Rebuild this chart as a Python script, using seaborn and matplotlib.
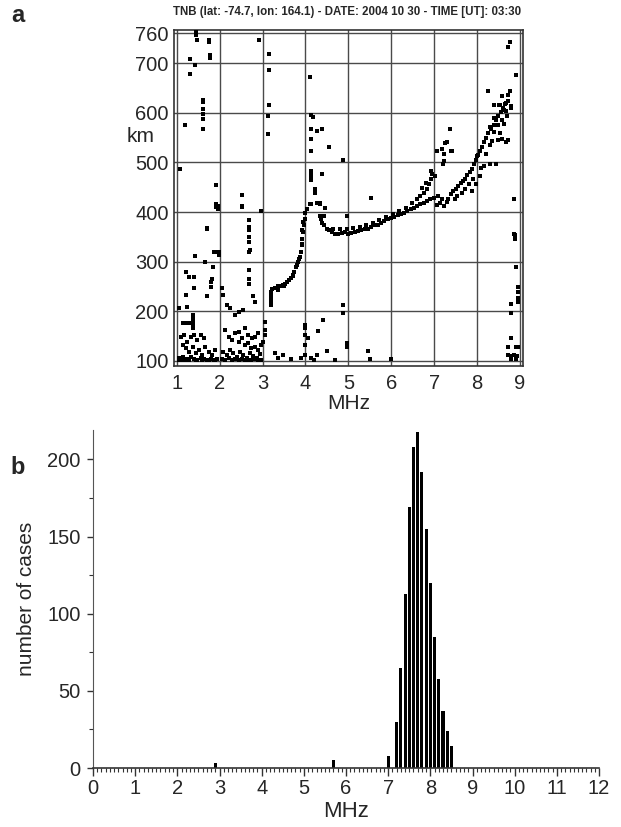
import numpy as np
import pandas as pd
import matplotlib
matplotlib.use('Agg')
import matplotlib.pyplot as plt
import seaborn as sns
from matplotlib.ticker import MultipleLocator

# ---- panel a: ionogram echoes (frequency MHz, virtual height km) ----
f1_trace = [(3.19, 213), (3.19, 219), (3.19, 226), (3.19, 233), (3.19, 239), (3.22, 245),
            (3.28, 247), (3.32, 246), (3.35, 243), (3.37, 251), (3.43, 251), (3.47, 254),
            (3.51, 251), (3.52, 256), (3.57, 259), (3.62, 263), (3.66, 267), (3.70, 271),
            (3.72, 274), (3.74, 279), (3.78, 289), (3.80, 294), (3.83, 299), (3.85, 305),
            (3.88, 309), (3.89, 319), (3.91, 333), (3.93, 346), (3.94, 359), (3.97, 373),
            (3.98, 386), (4.00, 398), (4.04, 406), (3.95, 379), (3.93, 363), (3.91, 336)]

f2_lower = [(4.27, 419), (4.33, 393), (4.36, 386), (4.39, 378), (4.44, 373), (4.50, 366),
            (4.56, 363), (4.62, 359), (4.69, 356), (4.77, 356), (4.85, 358), (4.92, 359),
            (5.00, 356), (5.07, 357), (5.15, 359), (5.23, 361), (5.30, 363), (5.38, 365),
            (5.46, 366), (5.53, 369), (5.61, 373), (5.69, 374), (5.76, 378), (5.84, 381),
            (5.92, 385), (5.99, 387), (6.07, 391), (6.15, 394), (6.22, 396), (6.30, 399),
            (6.37, 403), (6.45, 406), (6.53, 409), (6.60, 413), (6.68, 416), (6.76, 419),
            (6.83, 423), (6.91, 426), (6.99, 429), (7.06, 414), (7.14, 418), (7.22, 413),
            (7.29, 421), (7.18, 426), (7.10, 433)]

f2_upper = [(4.65, 366), (4.81, 365), (4.96, 366), (5.11, 367), (5.27, 369), (5.42, 374),
            (5.57, 378), (5.72, 383), (5.88, 389), (6.03, 396), (6.18, 403), (6.34, 409),
            (6.49, 418), (6.60, 426), (6.68, 433), (6.76, 439), (6.83, 446), (6.89, 456),
            (6.93, 466), (6.96, 476), (6.93, 483), (7.02, 473), (6.80, 459), (6.72, 449)]

x_trace = [(7.33, 426), (7.39, 436), (7.45, 443), (7.50, 447), (7.56, 453), (7.62, 458),
           (7.67, 463), (7.73, 467), (7.77, 474), (7.83, 481), (7.88, 487), (7.93, 496),
           (7.98, 505), (8.02, 514), (8.06, 523), (8.11, 531), (8.16, 541), (8.21, 549),
           (8.26, 559), (8.32, 567), (8.39, 576), (8.44, 585), (8.49, 593), (8.55, 601),
           (8.61, 609), (8.66, 618), (7.48, 426), (7.54, 433), (7.64, 439), (7.71, 447),
           (7.80, 456), (7.90, 466), (7.87, 443), (7.98, 456), (8.06, 473), (8.08, 489),
           (8.17, 493), (8.29, 496), (8.44, 496), (8.00, 513), (8.21, 516), (8.29, 536),
           (8.34, 543), (8.48, 546), (8.57, 547), (8.67, 541), (8.72, 546), (8.54, 559),
           (8.40, 561), (8.29, 571), (8.48, 576), (8.40, 589), (8.57, 585), (8.63, 578),
           (8.69, 594), (8.78, 609), (8.72, 623), (8.54, 616), (8.25, 644), (8.76, 644),
           (8.71, 636), (8.59, 633), (8.52, 616), (8.40, 616), (8.67, 619), (8.78, 613),
           (8.63, 606), (8.67, 603)]

scatter_echoes = [
    # upper left
    (1.44, 764), (1.46, 756), (1.47, 746), (1.31, 709), (1.31, 679), (1.43, 696),
    (1.76, 742), (1.76, 746), (1.77, 710), (1.77, 716), (1.20, 576), (1.62, 626),
    (1.62, 621), (1.62, 607), (1.62, 597), (1.62, 587), (1.62, 568), (1.08, 486),
    (1.92, 455), (1.92, 417), (1.92, 411), (2.51, 434), (2.51, 411), (2.92, 746),
    (3.16, 719), (3.16, 687), (3.16, 616), (3.12, 593), (3.12, 557),
    # around 4-5 MHz
    (4.10, 671), (4.12, 596), (4.17, 591), (4.13, 568), (4.27, 563), (4.39, 567),
    (4.13, 548), (4.13, 522), (4.54, 531), (4.88, 505), (4.13, 483), (4.13, 477),
    (4.13, 473), (4.13, 464), (4.39, 476), (4.23, 447), (4.23, 442), (4.23, 438),
    (4.10, 416), (4.35, 419), (4.35, 416), (4.45, 409), (5.53, 429),
    (4.12, 416), (4.43, 393), (4.96, 393),
    # around 7 MHz, above the trace
    (7.37, 567), (7.25, 539), (7.29, 541), (7.06, 523), (7.19, 526), (7.39, 523),
    (7.22, 516), (7.24, 503), (7.41, 523), (7.20, 496),
    # right edge
    (8.76, 743), (8.71, 733), (8.90, 675), (8.86, 426), (8.86, 356), (8.89, 353),
    (8.88, 345), (8.91, 289), (8.95, 249), (8.95, 239), (8.95, 227), (8.95, 219),
    (8.80, 214), (8.78, 196), (8.80, 146), (8.71, 129), (8.90, 129), (8.95, 129),
    (8.71, 113), (8.78, 110), (8.86, 113), (8.94, 110), (8.78, 103), (8.90, 103),
    # low heights 4-6 MHz
    (4.88, 213), (4.88, 196), (4.42, 183), (4.29, 161), (4.00, 173), (4.00, 166),
    (4.00, 153), (4.00, 133), (4.00, 113), (4.27, 113), (4.50, 121), (4.12, 106),
    (4.20, 101), (4.69, 101), (4.98, 136), (4.98, 129), (5.46, 121), (5.50, 103),
    (5.99, 103), (4.06, 146), (4.68, 101),
    # 1-2 MHz
    (1.06, 206), (1.21, 279), (1.29, 269), (1.21, 233), (1.25, 209), (1.41, 269),
    (1.41, 246), (1.43, 311), (1.71, 367), (1.67, 299), (1.71, 231), (1.79, 259),
    (1.79, 249), (1.83, 266), (1.84, 289), (1.86, 319), (1.92, 319), (1.98, 313),
    (1.98, 319), (1.14, 176), (1.23, 176), (1.29, 176), (1.37, 193), (1.38, 186),
    (1.38, 179), (1.38, 173), (1.39, 166), (1.10, 149), (1.18, 153), (1.25, 139),
    (1.33, 149), (1.41, 153), (1.48, 143), (1.56, 153), (1.63, 146), (1.14, 133),
    (1.21, 126), (1.29, 119), (1.37, 129), (1.44, 116), (1.52, 123), (1.60, 113),
    (1.67, 129), (1.75, 119), (1.83, 113), (1.90, 123), (1.06, 106), (1.10, 104),
    (1.14, 109), (1.18, 103), (1.25, 105), (1.33, 108), (1.41, 104), (1.48, 102),
    (1.56, 107), (1.63, 104), (1.71, 102), (1.79, 104), (1.86, 101), (1.94, 104),
    (1.06, 101), (1.12, 102), (1.19, 101), (1.29, 102), (1.44, 101), (1.60, 102),
    (1.75, 101), (1.90, 102), (1.96, 413), (1.96, 407), (1.71, 366),
    # 2-3 MHz
    (2.06, 246), (2.09, 233), (2.17, 213), (2.25, 206), (2.36, 193), (2.44, 199),
    (2.55, 203), (2.51, 413), (2.68, 383), (2.68, 369), (2.68, 363), (2.68, 349),
    (2.69, 339), (2.70, 323), (2.69, 319), (2.68, 283), (2.68, 266), (2.68, 256),
    (2.78, 231), (2.82, 219), (2.44, 159), (2.59, 166), (2.67, 153), (2.76, 146),
    (2.82, 149), (2.90, 156), (2.13, 163), (2.21, 149), (2.28, 143), (2.36, 156),
    (2.44, 139), (2.51, 146), (2.59, 133), (2.67, 136), (2.74, 126), (2.82, 129),
    (2.90, 123), (2.97, 133), (2.09, 119), (2.17, 113), (2.25, 123), (2.32, 116),
    (2.40, 109), (2.48, 119), (2.55, 113), (2.63, 107), (2.70, 116), (2.78, 111),
    (2.86, 106), (2.93, 114), (2.05, 103), (2.13, 101), (2.21, 106), (2.28, 101),
    (2.36, 103), (2.44, 101), (2.51, 105), (2.59, 101), (2.67, 102), (2.74, 101),
    (2.82, 103), (2.90, 101), (2.97, 102),
    # 3-4 MHz
    (3.01, 139), (3.05, 153), (3.06, 163), (3.06, 179), (2.97, 403), (3.28, 116),
    (3.35, 106), (3.47, 113), (3.66, 103), (3.89, 107),
]

# ---- panel b: distribution of critical frequency ----
hist_freq = [2.9, 5.7, 7.0, 7.2, 7.3, 7.4, 7.5, 7.6, 7.7, 7.8, 7.9, 8.0, 8.1, 8.2, 8.3, 8.4, 8.5]
hist_count = [3, 5, 8, 30, 65, 113, 169, 208, 218, 192, 155, 120, 85, 58, 37, 24, 14]

echoes = pd.DataFrame(f1_trace + f2_lower + f2_upper + x_trace + scatter_echoes,
                      columns=['freq', 'height'])
cases = pd.DataFrame({'freq': hist_freq, 'count': hist_count})

sns.set_style('white')
plt.rcParams['font.family'] = ['Liberation Sans', 'DejaVu Sans']

fig = plt.figure(figsize=(6.21, 8.27), dpi=100)
ax1 = fig.add_axes([0.2807, 0.5578, 0.561, 0.4059])
ax2 = fig.add_axes([0.1498, 0.0713, 0.8148, 0.4087])

# panel a
sns.scatterplot(data=echoes, x='freq', y='height', ax=ax1, color='black', marker='s',
                s=6, linewidth=0, zorder=3)
ax1.set_xlim(0.944, 9.063)
ax1.set_ylim(90.5, 766.6)
ax1.set_xticks(range(1, 10))
ax1.set_yticks([100, 200, 300, 400, 500, 600, 700, 760])
ax1.grid(True, color='#4a4a4a', linewidth=1.0)
ax1.tick_params(length=0, labelsize=14.5)
ax1.tick_params(axis='x', pad=6)
ax1.tick_params(axis='y', pad=4)
for s in ax1.spines.values():
    s.set_color('#333333')
    s.set_linewidth(1.2)
ax1.set_xlabel('MHz', fontsize=15, labelpad=1)
ax1.set_ylabel('')
fig.text(141/621, 1 - 137/827, 'km', fontsize=15, ha='center', va='center')
fig.text(347/621, 1 - 12/827, 'TNB (lat: -74.7, lon: 164.1) - DATE: 2004 10 30 - TIME [UT]: 03:30',
         fontsize=8.3, weight='bold', ha='center', va='center')

# panel b
sns.histplot(data=cases, x='freq', weights='count', binwidth=0.1, binrange=(-0.05, 12.05),
             ax=ax2, shrink=0.72, color='black', alpha=1, linewidth=0)
ax2.set_xlim(0, 12)
ax2.set_ylim(0, 219)
ax2.set_xticks(range(0, 13))
ax2.set_yticks([0, 50, 100, 150, 200])
ax2.xaxis.set_minor_locator(MultipleLocator(0.1))
ax2.yaxis.set_minor_locator(MultipleLocator(25))
ax2.tick_params(which='both', direction='out', color='#333333', labelsize=14.5,
                bottom=True, left=True)
ax2.tick_params(axis='x', which='major', length=6, width=1, pad=2)
ax2.tick_params(axis='x', which='minor', length=3, width=0.8)
ax2.tick_params(axis='y', which='major', length=4, width=1, pad=5)
ax2.tick_params(axis='y', which='minor', length=3, width=0.8)
sns.despine(ax=ax2)
ax2.spines['left'].set_color('#555555')
ax2.spines['bottom'].set_color('#333333')
ax2.spines['bottom'].set_linewidth(1.2)
ax2.set_xlabel('MHz', fontsize=16, labelpad=2)
ax2.set_ylabel('number of cases', fontsize=15, labelpad=8)

fig.text(18/621, 1 - 15/827, 'a', fontsize=17, weight='bold', ha='center', va='center')
fig.text(18/621, 1 - 468/827, 'b', fontsize=17, weight='bold', ha='center', va='center')

fig.savefig('out.png', dpi=100)
